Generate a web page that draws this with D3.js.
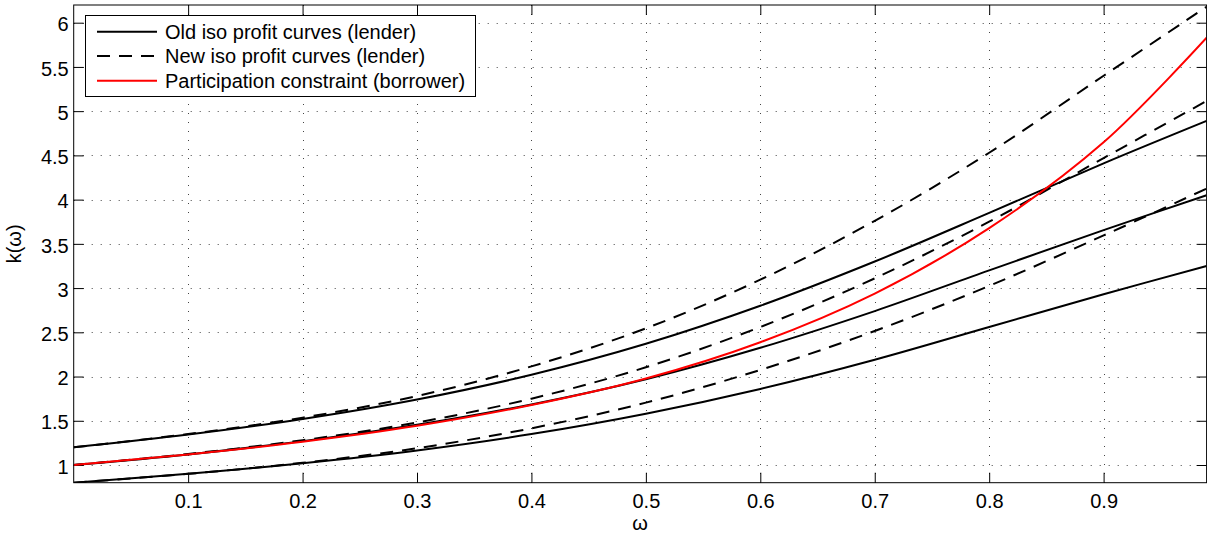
<!DOCTYPE html>
<html><head><meta charset="utf-8">
<script src="https://cdn.jsdelivr.net/npm/d3@7"></script>
<style>
body{margin:0;background:#fff}
svg{display:block}
text{font-family:"Liberation Sans",Arial,Helvetica,sans-serif;fill:#000}
</style>
</head><body>
<svg id="chart" width="1207" height="535"></svg>
<script>
// ---- data ----
const omega      = [0, 0.1, 0.2, 0.3, 0.4, 0.5, 0.6, 0.7, 0.8, 0.9, 0.99];
// old iso profit curves (solid)
const oldHigh    = [1.2, 1.345, 1.52, 1.74, 2.02, 2.37, 2.80, 3.30, 3.85, 4.41, 4.89];
const oldMid     = [1.0, 1.12, 1.27, 1.455, 1.685, 1.97, 2.325, 2.74, 3.2, 3.655, 4.05];
const oldLow     = [0.8, 0.9, 1.02, 1.165, 1.35, 1.58, 1.86, 2.19, 2.56, 2.93, 3.25];
// new iso profit curves (dashed)
const newHigh    = [1.2, 1.35, 1.535, 1.78, 2.115, 2.545, 3.095, 3.76, 4.53, 5.40, 6.18];
const newMid     = [1.0, 1.125, 1.28, 1.48, 1.75, 2.105, 2.56, 3.11, 3.75, 4.47, 5.115];
const newLow     = [0.8, 0.9, 1.025, 1.19, 1.415, 1.705, 2.075, 2.515, 3.025, 3.595, 4.125];
// participation constraint (borrower)
const participation = [1.0, 1.12, 1.263, 1.443, 1.678, 1.978, 2.388, 2.938, 3.678, 4.648, 5.83];

const xTicks = [0.1, 0.2, 0.3, 0.4, 0.5, 0.6, 0.7, 0.8, 0.9];
const xTickLabels = ["0.1","0.2","0.3","0.4","0.5","0.6","0.7","0.8","0.9"];
const yTicks = [1, 1.5, 2, 2.5, 3, 3.5, 4, 4.5, 5, 5.5, 6];
const yTickLabels = ["1","1.5","2","2.5","3","3.5","4","4.5","5","5.5","6"];
const legendLabels = ["Old iso profit curves (lender)", "New iso profit curves (lender)", "Participation constraint (borrower)"];
const xLabel = "\u03c9";
const yLabel = "k(\u03c9)";

// ---- layout ----
const L = 73.7, R = 1206.6, T = 5, B = 482.7;
const svg = d3.select("#chart");
const x = d3.scaleLinear().domain([0, 0.99]).range([L, R]);
const y = d3.scaleLinear().domain([0.8, 6.2]).range([B, T]);
const FS = 20;

// grid
const grid = svg.append("g").attr("stroke", "#444").attr("stroke-width", 1).attr("stroke-dasharray", "1,8");
grid.selectAll("line.v").data(xTicks).join("line").attr("class","v")
  .attr("x1", d => Math.round(x(d)) + 0.5).attr("x2", d => Math.round(x(d)) + 0.5)
  .attr("y1", T).attr("y2", B);
grid.selectAll("line.h").data(yTicks).join("line").attr("class","h")
  .attr("x1", L).attr("x2", R)
  .attr("y1", d => Math.round(y(d)) + 0.5).attr("y2", d => Math.round(y(d)) + 0.5);

// axes
const fmtX = d => xTickLabels[xTicks.indexOf(d)];
const fmtY = d => yTickLabels[yTicks.indexOf(d)];
const gB = svg.append("g").attr("transform", `translate(0,${B})`)
  .call(d3.axisBottom(x).tickValues(xTicks).tickFormat(fmtX).tickSizeInner(-10).tickSizeOuter(0).tickPadding(11.4));
const gT = svg.append("g").attr("transform", `translate(0,${T})`)
  .call(d3.axisTop(x).tickValues(xTicks).tickFormat("").tickSizeInner(-10).tickSizeOuter(0));
const gL = svg.append("g").attr("transform", `translate(${L},0)`)
  .call(d3.axisLeft(y).tickValues(yTicks).tickFormat(fmtY).tickSizeInner(-10).tickSizeOuter(0).tickPadding(5));
const gR = svg.append("g").attr("transform", `translate(${R},0)`)
  .call(d3.axisRight(y).tickValues(yTicks).tickFormat("").tickSizeInner(-10).tickSizeOuter(0));
[gB, gT, gL, gR].forEach(g => {
  g.select(".domain").remove();
  g.selectAll("line").attr("stroke", "#000").attr("stroke-width", 1);
  g.selectAll("text").attr("font-size", FS).attr("font-family", '"Liberation Sans",Arial,sans-serif').attr("fill", "#000");
});
gL.selectAll("text").attr("dy", "0.41em");

// curves
const clipId = "plotclip";
svg.append("clipPath").attr("id", clipId).append("rect")
  .attr("x", L).attr("y", T).attr("width", R - L).attr("height", B - T);
const line = d3.line().x((d, i) => x(omega[i])).y(d => y(d)).curve(d3.curveCatmullRom.alpha(0.5));
const curves = svg.append("g").attr("clip-path", `url(#${clipId})`).attr("fill", "none");
const series = [
  {v: oldHigh, c: "#000", dash: null},
  {v: oldMid,  c: "#000", dash: null},
  {v: oldLow,  c: "#000", dash: null},
  {v: newHigh, c: "#000", dash: "13,9"},
  {v: newMid,  c: "#000", dash: "13,9"},
  {v: newLow,  c: "#000", dash: "13,9"},
  {v: participation, c: "#ff0000", dash: null}
];
curves.selectAll("path").data(series).join("path")
  .attr("d", d => line(d.v))
  .attr("stroke", d => d.c)
  .attr("stroke-width", 2)
  .attr("stroke-dasharray", d => d.dash);

// frame
svg.append("rect").attr("x", L).attr("y", T).attr("width", R - L).attr("height", B - T)
  .attr("fill", "none").attr("stroke", "#000").attr("stroke-width", 1);

// legend
const lg = svg.append("g");
lg.append("rect").attr("x", 85.5).attr("y", 15.5).attr("width", 390).attr("height", 81)
  .attr("fill", "#fff").attr("stroke", "#000").attr("stroke-width", 1);
const legendStyles = [{c:"#000", dash:null}, {c:"#000", dash:"13,9"}, {c:"#ff0000", dash:null}];
const rowY = [31.7, 56, 80.7];
legendLabels.forEach((lab, i) => {
  lg.append("line").attr("x1", 97).attr("x2", 157).attr("y1", rowY[i]).attr("y2", rowY[i])
    .attr("stroke", legendStyles[i].c).attr("stroke-width", 2).attr("stroke-dasharray", legendStyles[i].dash);
  lg.append("text").attr("x", 165).attr("y", rowY[i] + 7).attr("font-size", FS).text(lab);
});

// axis labels
svg.append("text").attr("x", (L + R) / 2).attr("y", 530).attr("text-anchor", "middle").attr("font-size", FS).text(xLabel);
svg.append("text").attr("transform", `translate(21,${(T + B) / 2}) rotate(-90)`)
  .attr("text-anchor", "middle").attr("font-size", FS).text(yLabel);
</script>
</body></html>
